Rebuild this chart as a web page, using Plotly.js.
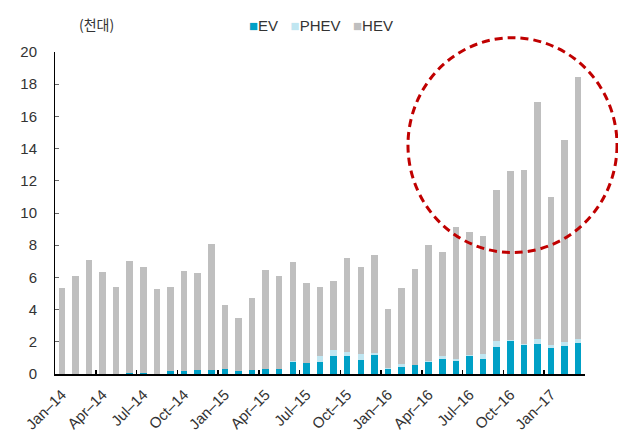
<!DOCTYPE html>
<html>
<head>
<meta charset="utf-8">
<script src="https://cdn.plot.ly/plotly-3.0.1.min.js"></script>
<style>html,body{margin:0;padding:0;background:#fff;}#chart{width:618px;height:432px;}</style>
</head>
<body>
<div id="chart"></div>
<script>
var months = ["Jan-14","Feb-14","Mar-14","Apr-14","May-14","Jun-14","Jul-14","Aug-14","Sep-14","Oct-14","Nov-14","Dec-14",
  "Jan-15","Feb-15","Mar-15","Apr-15","May-15","Jun-15","Jul-15","Aug-15","Sep-15","Oct-15","Nov-15","Dec-15",
  "Jan-16","Feb-16","Mar-16","Apr-16","May-16","Jun-16","Jul-16","Aug-16","Sep-16","Oct-16","Nov-16","Dec-16",
  "Jan-17","Feb-17","Mar-17"];
var tickLabels = ["Jan–14","Apr–14","Jul–14","Oct–14","Jan–15","Apr–15","Jul–15","Oct–15","Jan–16","Apr–16","Jul–16","Oct–16","Jan–17"];
var ev   = [0.02,0.02,0.02,0.03,0.03,0.08,0.07,0.03,0.19,0.19,0.27,0.27,0.31,0.20,0.27,0.33,0.33,0.75,0.68,0.76,1.12,1.13,0.88,1.19,0.30,0.44,0.54,0.75,0.91,0.83,1.14,0.91,1.70,2.06,1.81,1.86,1.63,1.76,1.90];
var phev = [0,0,0,0,0,0,0,0,0,0,0,0,0,0,0,0,0,0.03,0.03,0.36,0.37,0.24,0.35,0.11,0.05,0.18,0.05,0.04,0.21,0.09,0.05,0.32,0.36,0.08,0.05,0.31,0.15,0.23,0.27];
var hev  = [5.30,6.05,7.08,6.31,5.35,6.94,6.56,5.23,5.19,6.21,6.00,7.82,3.96,3.30,4.47,6.15,5.76,6.20,4.96,4.26,4.27,5.83,5.40,6.07,3.71,4.70,5.91,7.20,6.44,8.23,7.63,7.34,9.37,10.45,10.79,14.71,9.23,12.56,16.28];

var colors = {EV:"#00a0c6", PHEV:"#c0e6f1", HEV:"#bfbfbf"};
var labelFont = {family:"Liberation Sans, Arial, sans-serif", size:15, color:"#333"};

// tick label positions (every 3rd month) and boundary tick positions
var labelVals = [], bndVals = [];
for (var i = 0; i < months.length; i += 3) { labelVals.push(months[i]); }
for (var j = 3; j <= months.length; j += 3) { bndVals.push(j - 0.5); }

var traces = [
  {type:"bar", name:"EV", x:months, y:ev, marker:{color:colors.EV}},
  {type:"bar", name:"PHEV", x:months, y:phev, marker:{color:colors.PHEV}},
  {type:"bar", name:"HEV", x:months, y:hev, marker:{color:colors.HEV}},
  {type:"scatter", x:[], y:[], xaxis:"x2", yaxis:"y", hoverinfo:"skip", showlegend:false}
];

var layout = {
  width:618, height:432,
  margin:{l:55, r:33, t:52, b:58},
  barmode:"stack", bargap:0.52,
  showlegend:false,
  paper_bgcolor:"#fff", plot_bgcolor:"#fff",
  font:labelFont,
  xaxis:{type:"category", range:[-0.5, months.length-0.5], tickmode:"array", tickvals:labelVals, ticktext:tickLabels,
         tickangle:-45, ticks:"", showline:true, linecolor:"#000", linewidth:2, showgrid:false, zeroline:false,
         tickfont:labelFont, ticklabelstandoff:4},
  xaxis2:{overlaying:"x", anchor:"y", type:"linear", range:[-0.5, months.length-0.5], tickmode:"array", tickvals:bndVals,
          ticks:"inside", ticklen:4, tickwidth:1.5, tickcolor:"#000", showticklabels:false, showline:false, showgrid:false, zeroline:false},
  yaxis:{range:[0,20], dtick:2, ticks:"inside", ticklen:4, tickcolor:"#666", showline:true, linecolor:"#000", linewidth:1,
         showgrid:false, zeroline:false, tickfont:labelFont, ticklabelstandoff:14},
  shapes:[{type:"circle", xref:"paper", yref:"paper", x0:0.666, x1:1.0604, y0:0.377, y1:1.0444,
           line:{color:"#c00000", width:3, dash:"8px,5px"}}],
  annotations:[
    {xref:"paper", yref:"paper", x:(96-55)/530, y:(374-24)/322, xanchor:"center", yanchor:"middle", text:"(천대)", showarrow:false,
     font:{family:"Noto Sans CJK KR, sans-serif", size:14, color:"#333"}},
    {xref:"paper", yref:"paper", x:(321-55)/530, y:(374-26)/322, xanchor:"center", yanchor:"middle", showarrow:false,
     text:"<span style='color:"+colors.EV+"'>■</span>EV&nbsp;&nbsp;&nbsp;<span style='color:"+colors.PHEV+"'>■</span>PHEV&nbsp;&nbsp;&nbsp;<span style='color:"+colors.HEV+"'>■</span>HEV",
     font:{family:"Liberation Sans, Arial, sans-serif", size:15, color:"#333"}}
  ]
};

Plotly.newPlot("chart", traces, layout, {displayModeBar:false, staticPlot:true});
</script>
</body>
</html>
